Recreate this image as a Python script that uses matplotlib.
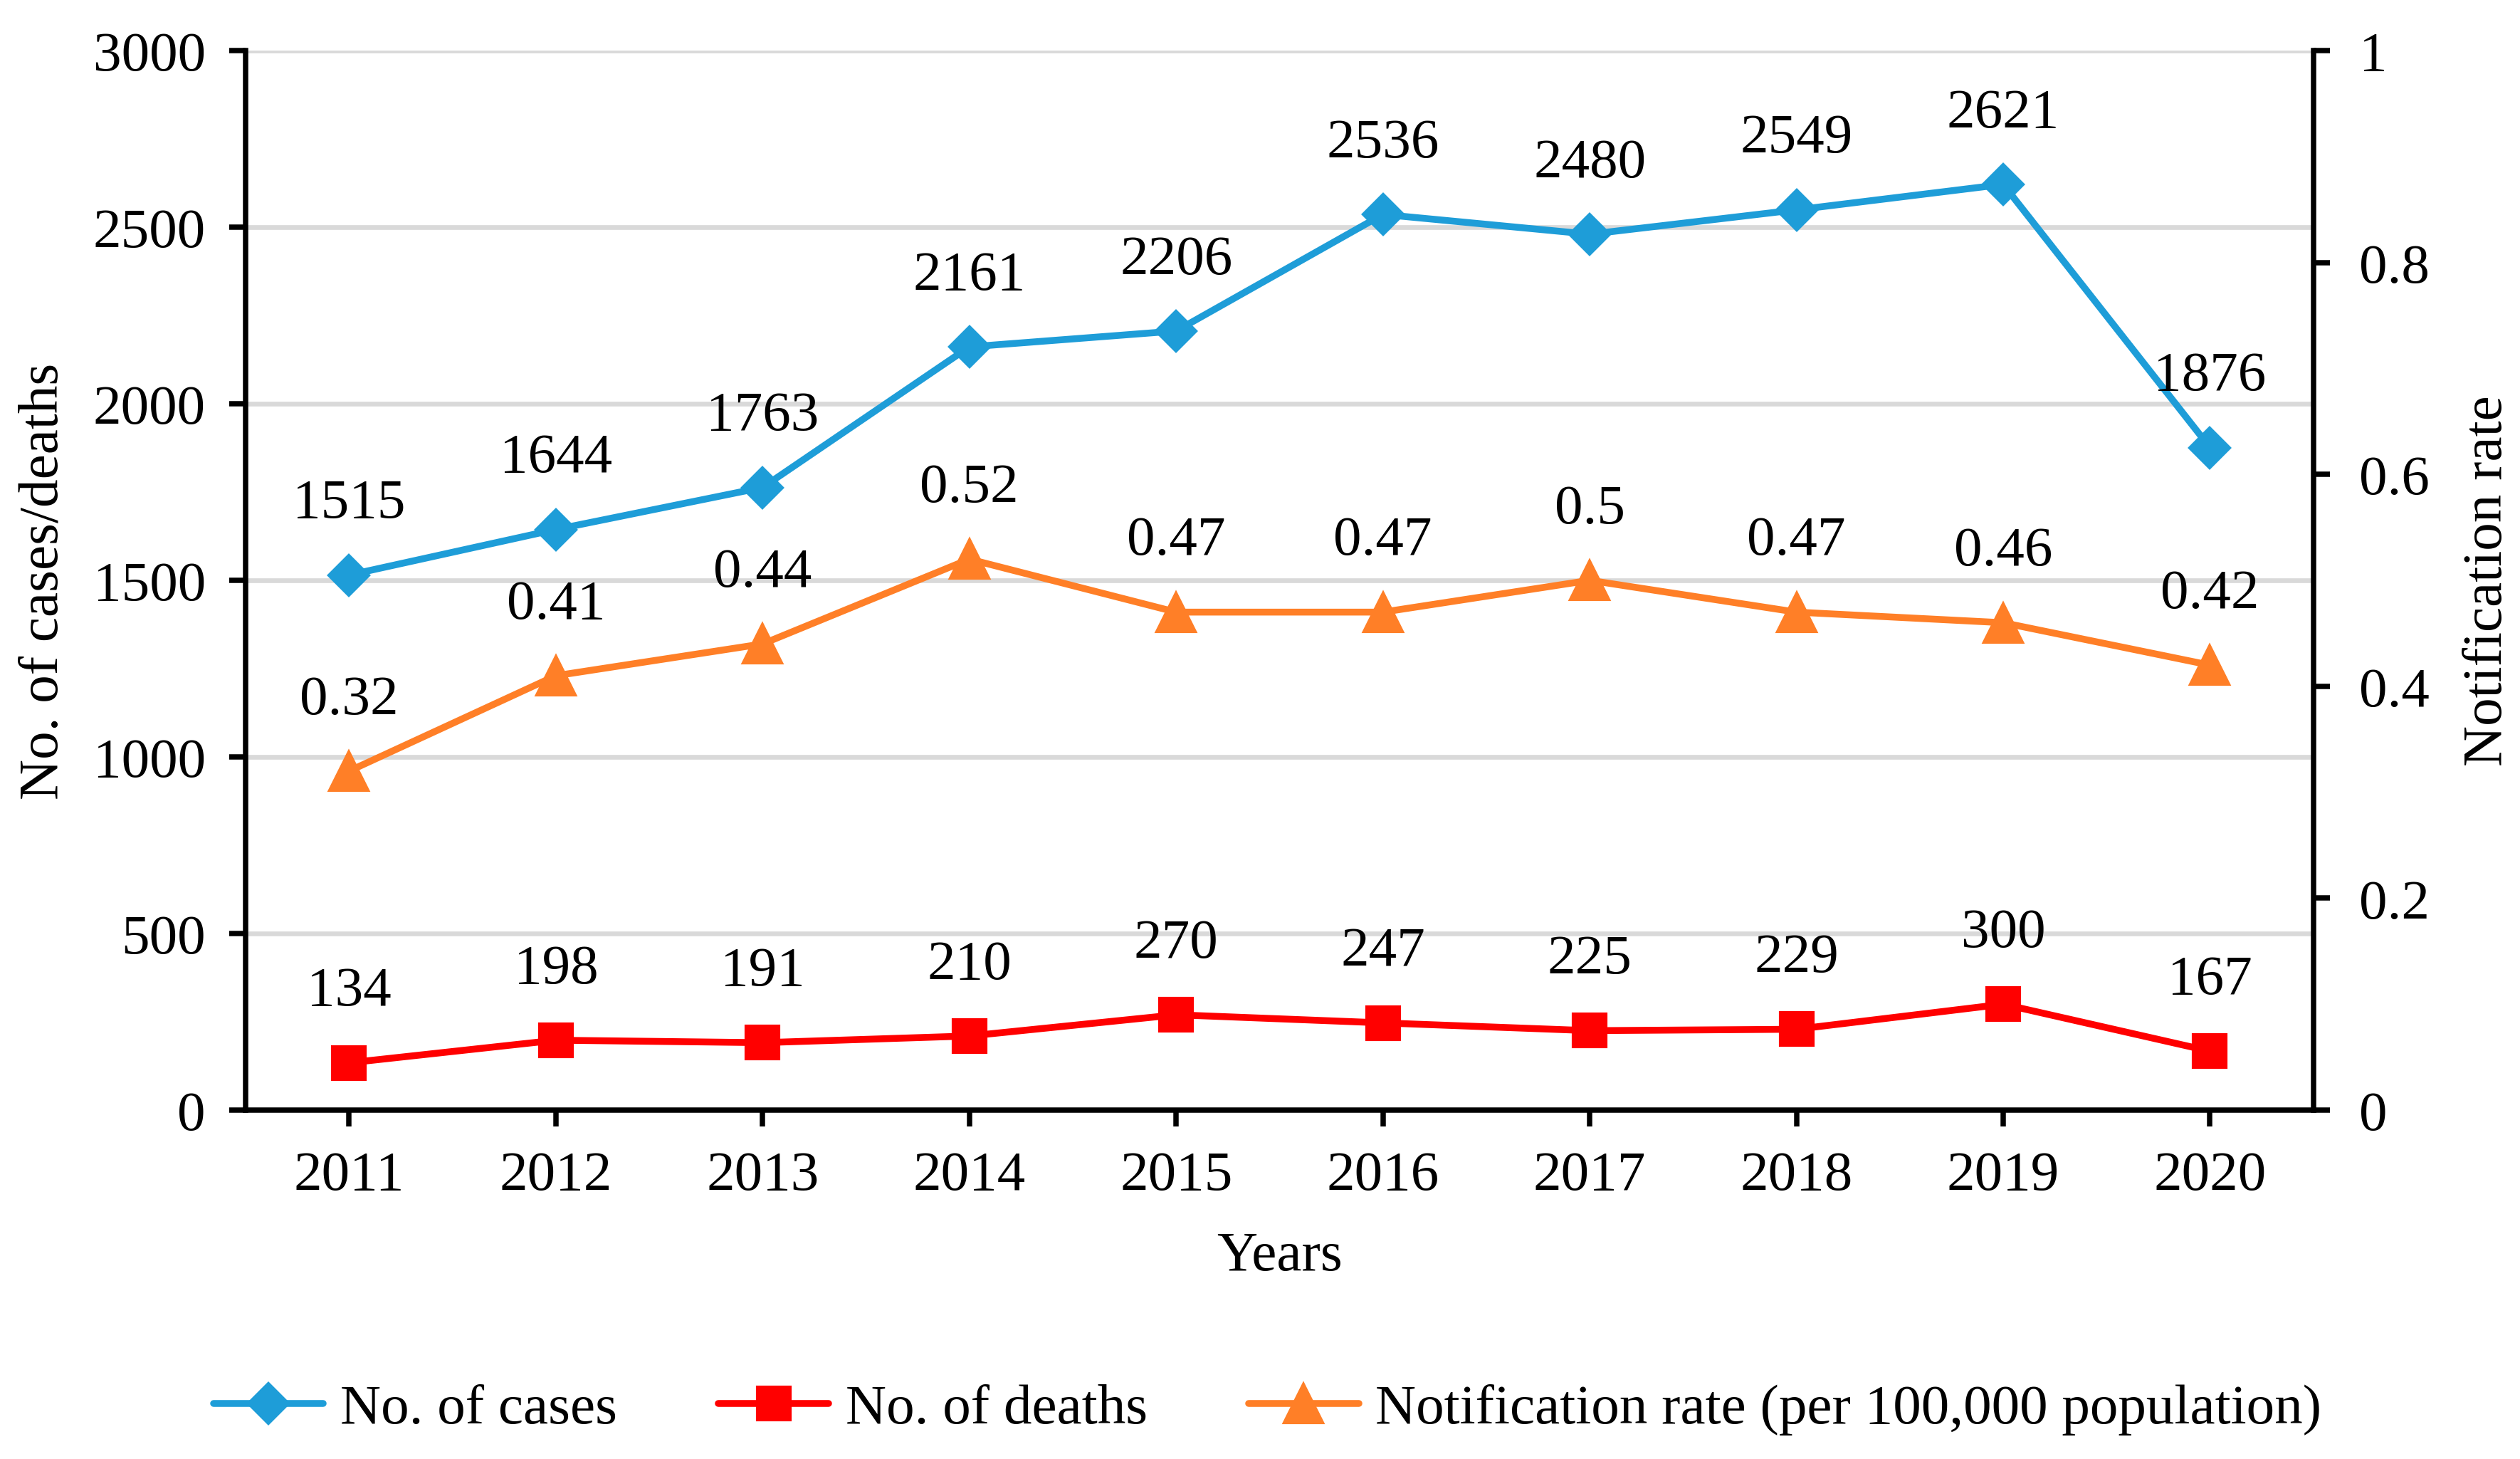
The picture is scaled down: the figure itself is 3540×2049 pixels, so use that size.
import matplotlib
matplotlib.use('Agg')
import matplotlib.pyplot as plt
from matplotlib.lines import Line2D

# Data
years = ['2011', '2012', '2013', '2014', '2015', '2016', '2017', '2018', '2019', '2020']
cases = [1515, 1644, 1763, 2161, 2206, 2536, 2480, 2549, 2621, 1876]
deaths = [134, 198, 191, 210, 270, 247, 225, 229, 300, 167]
notif_rate = [0.32, 0.41, 0.44, 0.52, 0.47, 0.47, 0.50, 0.47, 0.46, 0.42]
notif_labels = ['0.32', '0.41', '0.44', '0.52', '0.47', '0.47', '0.5', '0.47', '0.46', '0.42']

left_ticks = [0, 500, 1000, 1500, 2000, 2500, 3000]
right_ticks = [0, 0.2, 0.4, 0.6, 0.8, 1.0]
right_tick_labels = ['0', '0.2', '0.4', '0.6', '0.8', '1']

blue = '#1E9DD8'
red = '#FF0000'
orange = '#FF7F27'

plt.rcParams['font.family'] = ['Liberation Serif', 'DejaVu Serif']
fs = 19

fig = plt.figure(figsize=(11.8, 6.8333), dpi=300)
ax = fig.add_axes([0.0975, 0.239, 0.8205, 0.7259])
ax2 = ax.twinx()

x = list(range(len(years)))

ax.plot(x, cases, color=blue, lw=2.3, marker='D', ms=9.5, solid_capstyle='round', zorder=3)
ax.plot(x, deaths, color=red, lw=2.3, marker='s', ms=11, solid_capstyle='round', zorder=3)
ax2.plot(x, notif_rate, color=orange, lw=2.3, marker='^', ms=13, solid_capstyle='round', zorder=3)

# data labels above each point
for xi, v in zip(x, cases):
    ax.annotate(str(v), (xi, v), textcoords='offset points', xytext=(0, 24),
                ha='center', va='center', fontsize=fs)
for xi, v in zip(x, deaths):
    ax.annotate(str(v), (xi, v), textcoords='offset points', xytext=(0, 24),
                ha='center', va='center', fontsize=fs)
for xi, v, lab in zip(x, notif_rate, notif_labels):
    ax2.annotate(lab, (xi, v), textcoords='offset points', xytext=(0, 24),
                 ha='center', va='center', fontsize=fs)

ax.set_xlim(-0.5, len(years) - 0.5)
ax.set_ylim(0, 3000)
ax2.set_ylim(0, 1)

ax.set_xticks(x)
ax.set_xticklabels(years)
ax.set_yticks(left_ticks)
ax2.set_yticks(right_ticks)
ax2.set_yticklabels(right_tick_labels)

ax.grid(axis='y', color='#D9D9D9', lw=1.6, zorder=0)
ax.set_axisbelow(True)

for a in (ax, ax2):
    for s in a.spines.values():
        s.set_linewidth(1.8)
    a.spines['top'].set_visible(False)
ax2.spines['left'].set_visible(False)
ax2.spines['bottom'].set_visible(False)
ax.spines['right'].set_visible(False)

ax.tick_params(axis='both', direction='out', length=5.5, width=1.8, labelsize=fs, pad=8)
ax2.tick_params(axis='y', direction='out', length=5.5, width=1.8, labelsize=fs, pad=10)

ax.set_xlabel('Years', fontsize=fs, labelpad=10)
ax.set_ylabel('No. of cases/deaths', fontsize=fs, labelpad=8)
ax2.set_ylabel('Notification rate', fontsize=fs, labelpad=11)

handles = [
    Line2D([], [], color=blue, lw=2.3, marker='D', ms=9.5, solid_capstyle='round'),
    Line2D([], [], color=red, lw=2.3, marker='s', ms=11, solid_capstyle='round'),
    Line2D([], [], color=orange, lw=2.3, marker='^', ms=13, solid_capstyle='round'),
]
labels = ['No. of cases', 'No. of deaths', 'Notification rate (per 100,000 population)']
fig.legend(handles, labels, loc='center', bbox_to_anchor=(0.503, 0.034), ncol=3,
           frameon=False, fontsize=fs, handlelength=1.95, handletextpad=0.3, columnspacing=1.8)

plt.savefig('out.png', dpi=300)
